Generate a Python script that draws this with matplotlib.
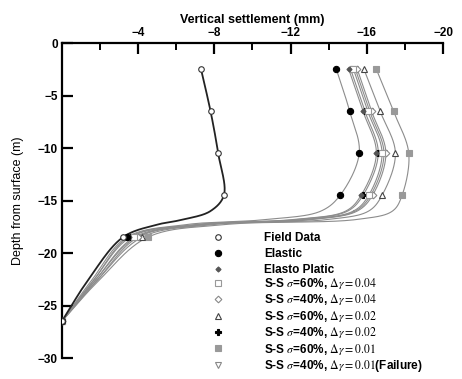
import numpy as np
import matplotlib
matplotlib.use('Agg')
from matplotlib import pyplot as plt
from matplotlib.lines import Line2D

plt.rcParams['font.family'] = ['Liberation Sans', 'DejaVu Sans']
plt.rcParams['mathtext.fontset'] = 'stix'

# depths along each curve (m); markers sit at the measurement depths only
depth = [-2.5, -6.5, -10.5, -14.5, -16.0, -16.8, -17.3, -18.5, -22.5, -26.5]
mark_idx = [0, 1, 2, 3, 7, 9]

field = [-7.3, -7.8, -8.2, -8.5, -7.8, -6.4, -5.0, -3.2, -1.4, 0]
elastic = [-14.4, -15.1, -15.6, -14.6, -13.6, -10.8, -6.5, -3.4, -1.6, 0]
elasto = [-15.05, -15.8, -16.5, -15.7, -14.9, -12.2, -7.0, -3.5, -1.7, 0]
ss60_004 = [-15.3, -16.05, -16.8, -16.1, -15.3, -12.8, -7.3, -3.8, -1.8, 0]
ss40_004 = [-15.5, -16.25, -17.0, -16.3, -15.5, -13.2, -7.5, -4.0, -1.9, 0]
ss60_002 = [-15.85, -16.7, -17.5, -16.8, -16.1, -14.0, -7.9, -4.2, -1.9, 0]
ss40_002 = [-15.15, -15.9, -16.6, -15.8, -15.0, -12.4, -7.1, -3.6, -1.7, 0]
ss60_001 = [-16.5, -17.4, -18.2, -17.85, -17.35, -15.5, -8.5, -4.5, -2.0, 0]
ss40_001 = [-15.4, -16.15, -16.9, -16.2, -15.4, -13.0, -7.4, -3.9, -1.8, 0]

labels = ['Field Data', 'Elastic', 'Elasto Platic',
          r'S-S $\sigma$=60%, $\Delta\gamma=0.04$',
          r'S-S $\sigma$=40%, $\Delta\gamma=0.04$',
          r'S-S $\sigma$=60%, $\Delta\gamma=0.02$',
          r'S-S $\sigma$=40%, $\Delta\gamma=0.02$',
          r'S-S $\sigma$=60%, $\Delta\gamma=0.01$',
          r'S-S $\sigma$=40%, $\Delta\gamma=0.01$(Failure)']
series = [field, elastic, elasto, ss60_004, ss40_004, ss60_002, ss40_002, ss60_001, ss40_001]
# marker, face, edge, size
styles = [('o', 'white', '#333333', 4),
          ('o', 'black', 'black', 4.5),
          ('D', '#555555', '#555555', 2.6),
          ('s', 'white', '#999999', 4),
          ('D', 'white', '#888888', 3.4),
          ('^', 'white', '#444444', 4.5),
          ('P', 'black', 'black', 4.5),
          ('s', '#999999', '#999999', 4.5),
          ('v', 'white', '#888888', 4.5)]


def smooth(xs, ys, n=25):
    # centripetal Catmull-Rom, computed in roughly pixel-scaled units
    P = np.column_stack([np.array(xs) * 19.0, np.array(ys) * 10.5])
    P = np.vstack([2 * P[0] - P[1], P, 2 * P[-1] - P[-2]])
    out = []
    for i in range(1, len(P) - 2):
        p0, p1, p2, p3 = P[i - 1], P[i], P[i + 1], P[i + 2]
        t0 = 0.0
        t1 = t0 + np.linalg.norm(p1 - p0) ** 0.5 + 1e-9
        t2 = t1 + np.linalg.norm(p2 - p1) ** 0.5 + 1e-9
        t3 = t2 + np.linalg.norm(p3 - p2) ** 0.5 + 1e-9
        t = np.linspace(t1, t2, n)[:, None]
        a1 = (t1 - t) / (t1 - t0) * p0 + (t - t0) / (t1 - t0) * p1
        a2 = (t2 - t) / (t2 - t1) * p1 + (t - t1) / (t2 - t1) * p2
        a3 = (t3 - t) / (t3 - t2) * p2 + (t - t2) / (t3 - t2) * p3
        b1 = (t2 - t) / (t2 - t0) * a1 + (t - t0) / (t2 - t0) * a2
        b2 = (t3 - t) / (t3 - t1) * a2 + (t - t1) / (t3 - t1) * a3
        c = (t2 - t) / (t2 - t1) * b1 + (t - t1) / (t2 - t1) * b2
        out.append(c)
    out = np.vstack(out)
    return out[:, 0] / 19.0, out[:, 1] / 10.5


fig = plt.figure(figsize=(4.62, 3.79), dpi=100)
ax = fig.add_axes([0.134, 0.0554, 0.825, 0.8311])

# model curves first (grey, thin), field data on top
for k in range(len(series) - 1, -1, -1):
    xs, ys = smooth(series[k], depth)
    if k == 0:
        ax.plot(xs, ys, color='#222222', lw=1.3, zorder=3)
    else:
        ax.plot(xs, ys, color='#8c8c8c', lw=0.8, zorder=2)
for k in range(len(series) - 1, -1, -1):
    m, fc, ec, ms = styles[k]
    ax.plot([series[k][i] for i in mark_idx], [depth[i] for i in mark_idx],
            linestyle='none', marker=m, mfc=fc, mec=ec, ms=ms, mew=0.8, zorder=4)

ax.set_xlim(0, -20)
ax.set_ylim(-30, 0)
ax.spines['right'].set_visible(False)
ax.spines['bottom'].set_visible(False)
ax.spines['top'].set_linewidth(1.6)
ax.spines['left'].set_linewidth(1.6)
ax.xaxis.tick_top()
ax.xaxis.set_label_position('top')
ax.set_xticks([-4, -8, -12, -16, -20])
ax.set_xticks([-2, -6, -10, -14, -18], minor=True)
ax.set_yticks([0, -5, -10, -15, -20, -25, -30])
ax.tick_params(axis='x', which='major', direction='in', length=8, width=1.6, pad=3)
ax.tick_params(axis='x', which='minor', direction='in', length=5, width=1.4)
ax.tick_params(axis='y', which='major', direction='in', length=8, width=1.6, pad=3)
for lab in ax.get_xticklabels() + ax.get_yticklabels():
    lab.set_fontweight('bold')
    lab.set_fontsize(8.5)
ax.set_xlabel('Vertical settlement (mm)', fontsize=9, fontweight='bold', labelpad=3)
ax.set_ylabel('Depth from surface (m)', fontsize=9, labelpad=10)

handles = []
for k in range(len(series)):
    m, fc, ec, ms = styles[k]
    handles.append(Line2D([], [], linestyle='none', marker=m, mfc=fc, mec=ec, ms=ms, mew=0.8))
# plain-text rows and math rows have different heights, so two legends keep the pitch even
leg_kw = dict(loc='upper left', frameon=False, handlelength=1.0, handletextpad=3.4,
              borderpad=0, borderaxespad=0, prop={'weight': 'bold', 'size': 8.5})
leg1 = fig.legend(handles[:3], labels[:3], bbox_to_anchor=(0.459, 0.387),
                  labelspacing=0.33, **leg_kw)
leg2 = fig.legend(handles[3:], labels[3:], bbox_to_anchor=(0.459, 0.272),
                  labelspacing=0.12, **leg_kw)

fig.savefig('out.png', dpi=100)
